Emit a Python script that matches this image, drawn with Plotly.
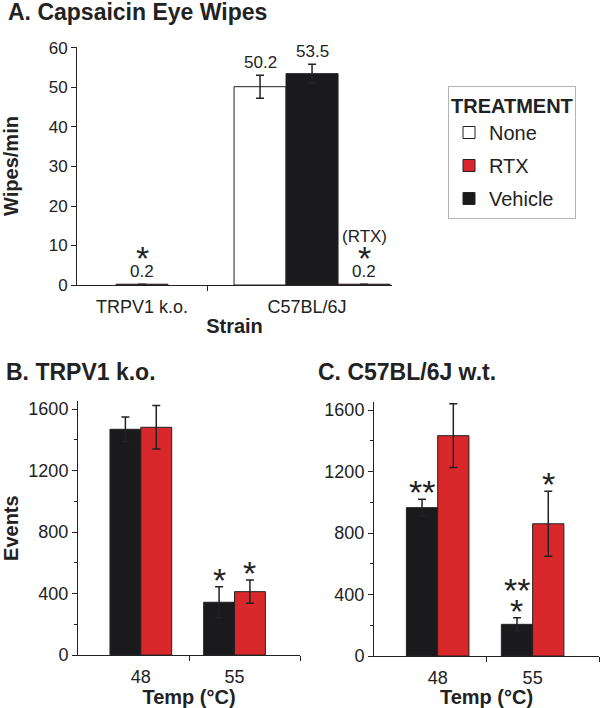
import plotly.graph_objects as go

FONT = "Liberation Sans, Arial, Helvetica, sans-serif"
INK = "#222222"
C_NONE, C_RTX, C_VEH = "#ffffff", "#d9282b", "#1a1a1c"
W, H = 600, 708

# ---------------- Panel A: Capsaicin eye wipes ----------------
strains = ["TRPV1 k.o.", "C57BL/6J"]
wipes_none = [None, 50.2]
wipes_none_err = [None, 2.9]
wipes_vehicle = [None, 53.5]
wipes_vehicle_err = [None, 2.4]
wipes_rtx = [0.2, 0.2]
wipes_rtx_err = [0, 0]
wipes_rtx_sig = ["*", "*"]
wipes_rtx_note = ["", "(RTX)"]
wipes_ticks = [0, 10, 20, 30, 40, 50, 60]

# ---------------- Panels B/C: hot plate events ----------------
temps = ["48", "55"]
ko_vehicle = [1468, 343]
ko_vehicle_err = [80, 101]
ko_vehicle_sig = ["", "*"]
ko_rtx = [1481, 412]
ko_rtx_err = [141, 75]
ko_rtx_sig = ["", "*"]
wt_vehicle = [965, 206]
wt_vehicle_err = [55, 43]
wt_vehicle_sig = ["**", "**|*"]
wt_rtx = [1433, 860]
wt_rtx_err = [207, 212]
wt_rtx_sig = ["", "*"]
events_ticks = [0, 400, 800, 1200, 1600]

STAR = 34


def px_x(p):
    return p / W


def px_y(p):
    return 1 - p / H


def place(series, centers, width):
    """x position of each present bar: bars of a group are packed side by side around the group centre."""
    xs = [[None] * len(centers) for _ in series]
    for i, c in enumerate(centers):
        present = [k for k, s in enumerate(series) if s["y"][i] is not None]
        n = len(present)
        for j, k in enumerate(present):
            xs[k][i] = c + (j - (n - 1) / 2) * width
    return xs


fig = go.Figure()
annotations = []


def add_panel(series, centers, width, xa, ya, legend=False, val_labels=False, star_gap=14):
    xs = place(series, centers, width)
    for s, x in zip(series, xs):
        pts = [(xi, yi, ei) for xi, yi, ei in zip(x, s["y"], s["err"]) if yi is not None]
        fig.add_trace(go.Bar(
            x=[p[0] for p in pts], y=[p[1] for p in pts], width=width,
            name=s["name"], legendrank=s.get("rank", 1), showlegend=legend,
            legendgroup=s["name"] if legend else None,
            marker=dict(color=s["color"], line=dict(color=INK, width=1)),
            error_y=dict(type="data", array=[p[2] for p in pts], color=INK, thickness=1.5, width=4),
            xaxis=xa, yaxis=ya, hoverinfo="skip",
        ))
        for xi, yi, ei, sig, note in zip(x, s["y"], s["err"], s.get("sig", [""] * len(x)), s.get("note", [""] * len(x))):
            if yi is None:
                continue
            top = yi + (ei or 0)
            off = 0
            if val_labels:
                annotations.append(dict(x=xi, y=top, xref=xa, yref=ya, text=f"{yi:g}", showarrow=False,
                                        yanchor="middle", yshift=12.5, font=dict(size=17, family=FONT, color=INK)))
                off = 20
            if sig:
                for li, line in enumerate(reversed(sig.split("|"))):
                    annotations.append(dict(x=xi, y=top, xref=xa, yref=ya, text=line, showarrow=False,
                                            yanchor="middle", yshift=star_gap + off + 21 * li - 0.23 * STAR,
                                            font=dict(size=STAR, family=FONT, color=INK)))
            if note:
                annotations.append(dict(x=xi, y=top, xref=xa, yref=ya, text=note, showarrow=False,
                                        yanchor="middle", yshift=48, font=dict(size=17, family=FONT, color=INK)))


# Panel A: bars in group order None, Vehicle, RTX
add_panel([
    dict(name="None", y=wipes_none, err=wipes_none_err, color=C_NONE, rank=1),
    dict(name="Vehicle", y=wipes_vehicle, err=wipes_vehicle_err, color=C_VEH, rank=3),
    dict(name="RTX", y=wipes_rtx, err=wipes_rtx_err, color=C_RTX, rank=2, sig=wipes_rtx_sig, note=wipes_rtx_note),
], centers=[0.5, 1.808], width=0.4, xa="x", ya="y", legend=True, val_labels=True)

# Panel B
add_panel([
    dict(name="Vehicle", y=ko_vehicle, err=ko_vehicle_err, color=C_VEH, sig=ko_vehicle_sig),
    dict(name="RTX", y=ko_rtx, err=ko_rtx_err, color=C_RTX, sig=ko_rtx_sig),
], centers=[0.566, 1.41], width=0.278, xa="x2", ya="y2", star_gap=15)

# Panel C
add_panel([
    dict(name="Vehicle", y=wt_vehicle, err=wt_vehicle_err, color=C_VEH, sig=wt_vehicle_sig),
    dict(name="RTX", y=wt_rtx, err=wt_rtx_err, color=C_RTX, sig=wt_rtx_sig),
], centers=[0.566, 1.41], width=0.278, xa="x3", ya="y3", star_gap=15)

titlefont = dict(size=20, family=FONT, color=INK)


def xaxis(domain, rng, centers, labels, dividers, anchor, title):
    return dict(domain=domain, range=rng, anchor=anchor, tickmode="array", tickvals=centers, ticktext=labels,
                ticks="outside", ticklen=5, tickcolor="rgba(0,0,0,0)", tickfont=dict(size=18, family=FONT, color=INK),
                showline=True, linecolor=INK, linewidth=1, showgrid=False, zeroline=False, fixedrange=True,
                automargin=False,
                minor=dict(tickmode="array", tickvals=dividers, ticks="outside", ticklen=5, tickcolor=INK),
                title=dict(text=f"<b>{title}</b>", font=titlefont, standoff=3))


def yaxis(domain, rng, ticks, anchor, title, minor=None, standoff=10, fsize=17):
    d = dict(domain=domain, range=rng, anchor=anchor, tickmode="array", tickvals=ticks,
             ticks="outside", ticklen=5, tickcolor=INK, tickfont=dict(size=fsize, family=FONT, color=INK),
             showline=True, linecolor=INK, linewidth=1, showgrid=False, zeroline=False, fixedrange=True,
             automargin=False)
    if minor:
        d["minor"] = dict(dtick=minor, ticks="outside", ticklen=3, tickcolor=INK)
    if title:
        d["title"] = dict(text=f"<b>{title}</b>", font=titlefont, standoff=standoff)
    return d


ppu = 246 / 1600  # pixels per event unit in panels B/C

fig.update_layout(
    width=W, height=H, margin=dict(l=0, r=0, t=0, b=0, pad=0, autoexpand=False),
    paper_bgcolor="white", plot_bgcolor="white",
    barmode="overlay", font=dict(family=FONT, color=INK),
    xaxis=xaxis([px_x(77), px_x(392)], [0, 315 / 130], [0.5, 1.77], strains, [1], "y", "Strain"),
    yaxis=yaxis([px_y(285), px_y(47)], [0, 60.25], wipes_ticks, "x", "Wipes/min", standoff=28),
    xaxis2=xaxis([px_x(78), px_x(300)], [0, 2], [0.566, 1.41], temps, [1, 2], "y2", "Temp (°C)"),
    yaxis2=yaxis([px_y(655), px_y(655 - 1650 * ppu)], [0, 1650], events_ticks, "x2", "Events", minor=200,
                 standoff=8, fsize=18),
    xaxis3=xaxis([px_x(374), px_x(599)], [0, 2], [0.566, 1.41], temps, [1, 2], "y3", "Temp (°C)"),
    yaxis3=yaxis([px_y(656), px_y(656 - 1650 * ppu)], [0, 1650], events_ticks, "x3", None, minor=200, fsize=18),
    legend=dict(x=px_x(448), y=px_y(86), xanchor="left", yanchor="top",
                bordercolor="#b4b4b4", borderwidth=1, bgcolor="white",
                font=dict(size=20, family=FONT, color=INK),
                title=dict(text="<b>TREATMENT</b>", font=dict(size=20, family=FONT, color=INK)),
                traceorder="grouped", tracegroupgap=4),
    showlegend=True,
)

titles = [("A. Capsaicin Eye Wipes", 6, 12), ("B. TRPV1 k.o.", 4, 372), ("C. C57BL/6J w.t.", 316, 372)]
for text, x, y in titles:
    annotations.append(dict(x=px_x(x), y=px_y(y), xref="paper", yref="paper", xanchor="left", yanchor="middle",
                            text=f"<b>{text}</b>", showarrow=False, font=dict(size=23, family=FONT, color=INK)))

fig.update_layout(annotations=annotations)
fig.write_html("out.html", config={"displayModeBar": False},
               post_script="document.body.style.margin='0';document.body.style.overflow='hidden';")
